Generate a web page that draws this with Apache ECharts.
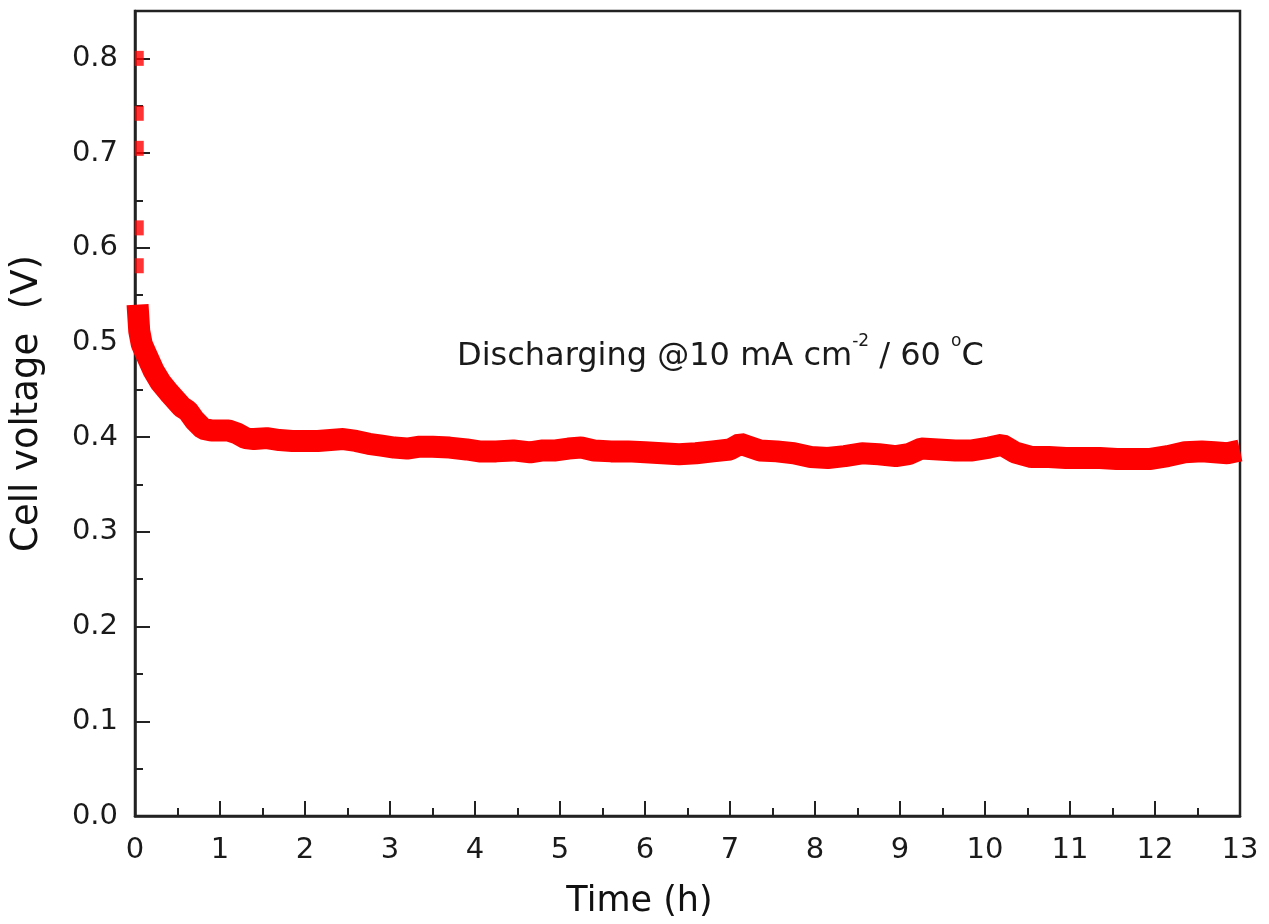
<!DOCTYPE html>
<html>
<head>
<meta charset="utf-8">
<script src="https://cdn.jsdelivr.net/npm/echarts@6/dist/echarts.min.js"></script>
<style>html,body{margin:0;padding:0;background:#fff;}#c{width:1269px;height:924px;}</style>
</head>
<body>
<div id="c"></div>
<script>
// Initial sparse points (time h, voltage V)
const startTimes = [0.05, 0.05, 0.05, 0.05, 0.05];
const startVolts = [0.800, 0.742, 0.705, 0.621, 0.581];
// Main discharge curve
const times = [0.03, 0.05, 0.08, 0.12, 0.17, 0.22, 0.30, 0.40, 0.50, 0.55, 0.62, 0.70, 0.80, 0.90, 1.00, 1.10, 1.20, 1.30, 1.40, 1.55, 1.70, 1.85, 2.00, 2.15, 2.30, 2.45, 2.60, 2.75, 2.90, 3.05, 3.20, 3.35, 3.50, 3.70, 3.90, 4.05, 4.25, 4.45, 4.65, 4.80, 4.95, 5.10, 5.25, 5.40, 5.60, 5.80, 6.00, 6.20, 6.40, 6.60, 6.80, 7.00, 7.12, 7.22, 7.35, 7.55, 7.75, 7.95, 8.15, 8.35, 8.55, 8.75, 8.95, 9.10, 9.25, 9.45, 9.65, 9.85, 10.05, 10.20, 10.35, 10.55, 10.75, 10.95, 11.15, 11.35, 11.55, 11.75, 11.95, 12.15, 12.35, 12.55, 12.70, 12.85, 13.00];
const volts = [0.540, 0.512, 0.498, 0.490, 0.480, 0.470, 0.458, 0.447, 0.437, 0.432, 0.428, 0.418, 0.409, 0.407, 0.407, 0.407, 0.404, 0.399, 0.398, 0.399, 0.397, 0.396, 0.396, 0.396, 0.397, 0.398, 0.396, 0.393, 0.391, 0.389, 0.388, 0.390, 0.390, 0.389, 0.387, 0.385, 0.385, 0.386, 0.384, 0.386, 0.386, 0.388, 0.389, 0.386, 0.385, 0.385, 0.384, 0.383, 0.382, 0.383, 0.385, 0.387, 0.393, 0.390, 0.386, 0.385, 0.383, 0.379, 0.378, 0.380, 0.383, 0.382, 0.380, 0.382, 0.388, 0.387, 0.386, 0.386, 0.389, 0.392, 0.384, 0.379, 0.379, 0.378, 0.378, 0.378, 0.377, 0.377, 0.377, 0.380, 0.384, 0.385, 0.384, 0.383, 0.386];
const xTicks = [0,1,2,3,4,5,6,7,8,9,10,11,12,13];
const yTicks = ['0.0','0.1','0.2','0.3','0.4','0.5','0.6','0.7','0.8'];

const chart = echarts.init(document.getElementById('c'), null, {renderer: 'canvas'});
const font = '"DejaVu Sans", Arial, sans-serif';
const axisColor = '#222';
chart.setOption({
  animation: false,
  backgroundColor: '#fff',
  grid: {left: 135, right: 29, top: 11, bottom: 106, show: true, borderColor: axisColor, borderWidth: 2.5, backgroundColor: 'transparent'},
  xAxis: {
    type: 'value', min: 0, max: 13, interval: 1,
    axisLine: {show: true, onZero: false, lineStyle: {color: axisColor, width: 2.5}},
    axisTick: {show: true, inside: true, length: 15, lineStyle: {color: axisColor, width: 2}},
    minorTick: {show: true, splitNumber: 2, length: 8, lineStyle: {color: axisColor, width: 2}},
    splitLine: {show: false},
    axisLabel: {color: '#1a1a1a', fontSize: 29, fontFamily: font, margin: 20, formatter: v => xTicks.includes(v) ? String(v) : ''},
    name: 'Time (h)', nameLocation: 'middle', nameGap: 58,
    nameTextStyle: {color: '#111', fontSize: 35, fontFamily: font, padding: [10, 96, 0, 0]}
  },
  yAxis: {
    type: 'value', min: 0, max: 0.85, interval: 0.1,
    axisLine: {show: true, onZero: false, lineStyle: {color: axisColor, width: 2.5}},
    axisTick: {show: true, inside: true, length: 15, lineStyle: {color: axisColor, width: 2}},
    minorTick: {show: true, splitNumber: 2, length: 8, lineStyle: {color: axisColor, width: 2}},
    splitLine: {show: false},
    axisLabel: {color: '#1a1a1a', fontSize: 29, fontFamily: font, margin: 17,
      formatter: v => { const s = v.toFixed(1); return yTicks.includes(s) && v <= 0.8001 ? s : ''; }},
    name: 'Cell voltage  (V)', nameLocation: 'middle', nameGap: 89, nameRotate: 90,
    nameTextStyle: {color: '#111', fontSize: 37, fontFamily: font, padding: [0, 0, 0, 20]}
  },
  series: [
    {
      type: 'line',
      data: times.map((t, i) => [t, volts[i]]),
      showSymbol: false,
      symbol: 'none',
      lineStyle: {color: '#ff0000', width: 22, join: 'bevel', cap: 'butt'},
      clip: true,
      z: 3
    },
    {
      type: 'scatter',
      data: startTimes.map((t, i) => [t, startVolts[i]]),
      symbol: 'rect',
      symbolSize: [9, 15],
      itemStyle: {color: '#ff0000'},
      z: 3
    }
  ],
  graphic: [{
    type: 'text',
    left: 457, top: 333,
    style: {
      text: '{n|Discharging @10 mA cm}{s|-2}{n| / 60 }{s|o}{n|C}',
      rich: {
        n: {fontSize: 32, fontFamily: font, fill: '#1a1a1a', verticalAlign: 'bottom', lineHeight: 40},
        s: {fontSize: 17, fontFamily: font, fill: '#1a1a1a', verticalAlign: 'top', lineHeight: 40, padding: [0, 0, 16, 0]}
      }
    }
  }]
});
</script>
</body>
</html>
